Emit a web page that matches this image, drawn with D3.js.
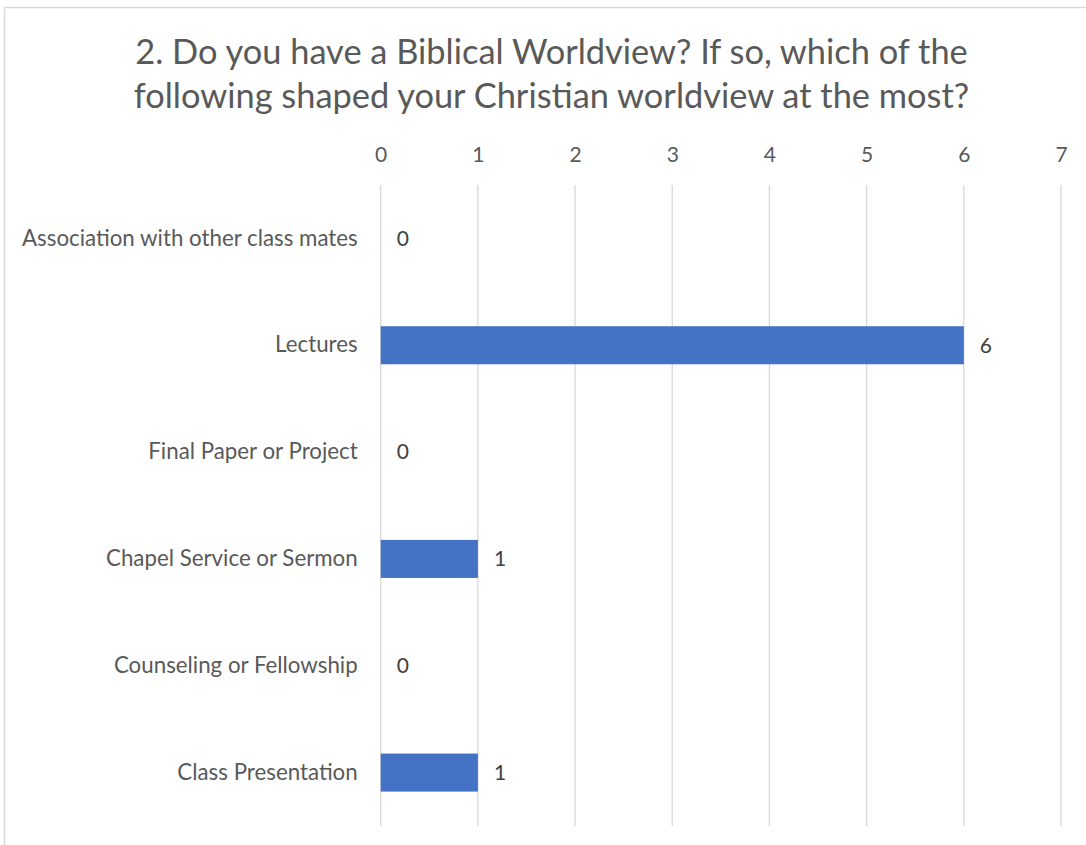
<!DOCTYPE html>
<html>
<head>
<meta charset="utf-8">
<script src="https://cdn.jsdelivr.net/npm/d3@7"></script>
<style>
  body { margin: 0; background: #fff; }
  text { font-family: Lato, "Open Sans", sans-serif; }
</style>
</head>
<body>
<div class="chart-container"></div>
<script>
var categories = ['Association with other class mates', 'Lectures', 'Final Paper or Project',
  'Chapel Service or Sermon', 'Counseling or Fellowship', 'Class Presentation'];
var counts = [0, 6, 0, 1, 0, 1];
var ticks = [0, 1, 2, 3, 4, 5, 6, 7];
var titleLines = ['2. Do you have a Biblical Worldview? If so, which of the',
  'following shaped your Christian worldview at the most?'];

var W = 1086, H = 845;
var plot = {left: 380.7, right: 1061, top: 185, bottom: 826};

var svg = d3.select('.chart-container').append('svg')
  .attr('width', W)
  .attr('height', H);

// chart frame (cut off at the right and bottom)
svg.append('rect')
  .attr('x', 4.5).attr('y', 7.5)
  .attr('width', W + 20).attr('height', H + 20)
  .attr('fill', '#fff')
  .attr('stroke', '#d9d9d9')
  .attr('stroke-width', 1.5);

var x = d3.scaleLinear()
  .domain([0, 7])
  .range([plot.left, plot.right]);

var y = d3.scaleBand()
  .domain(categories)
  .range([plot.top, plot.bottom])
  .paddingInner(0.644)
  .paddingOuter(0.322);

// title
svg.append('g').selectAll('text')
  .data(titleLines)
  .enter().append('text')
  .attr('x', 551.5)
  .attr('y', (d, i) => 64 + i * 44)
  .attr('text-anchor', 'middle')
  .attr('fill', '#595959')
  .attr('font-size', 34.4)
  .text(d => d);

// gridlines
svg.append('g').selectAll('line')
  .data(ticks)
  .enter().append('line')
  .attr('x1', d => x(d)).attr('x2', d => x(d))
  .attr('y1', plot.top).attr('y2', plot.bottom)
  .attr('stroke', '#d9d9d9')
  .attr('stroke-width', 1.3);

// top axis
var xAxis = d3.axisTop(x).tickValues(ticks).tickFormat(d3.format('d'))
  .tickSize(0).tickPadding(0);
var gX = svg.append('g')
  .attr('transform', `translate(0, 162)`)
  .call(xAxis);
gX.select('.domain').remove();
gX.selectAll('text')
  .attr('font-size', 21)
  .attr('font-family', 'Lato, sans-serif')
  .attr('fill', '#595959');

// category labels
var yAxis = d3.axisLeft(y).tickSize(0).tickPadding(23);
var gY = svg.append('g')
  .attr('transform', `translate(${plot.left},0)`)
  .call(yAxis);
gY.select('.domain').remove();
gY.selectAll('text')
  .attr('font-size', 22.3)
  .attr('font-family', 'Lato, sans-serif')
  .attr('fill', '#595959');

// bars
svg.append('g').selectAll('rect')
  .data(counts)
  .enter().append('rect')
  .attr('x', x(0))
  .attr('y', (d, i) => y(categories[i]))
  .attr('width', d => x(d) - x(0))
  .attr('height', y.bandwidth())
  .attr('fill', '#4472c4');

// data labels
svg.append('g').selectAll('text')
  .data(counts)
  .enter().append('text')
  .attr('x', d => x(d) + 16)
  .attr('y', (d, i) => y(categories[i]) + y.bandwidth() / 2)
  .attr('dy', '0.35em')
  .attr('font-size', 21)
  .attr('fill', '#404040')
  .text(d => d);
</script>
</body>
</html>
